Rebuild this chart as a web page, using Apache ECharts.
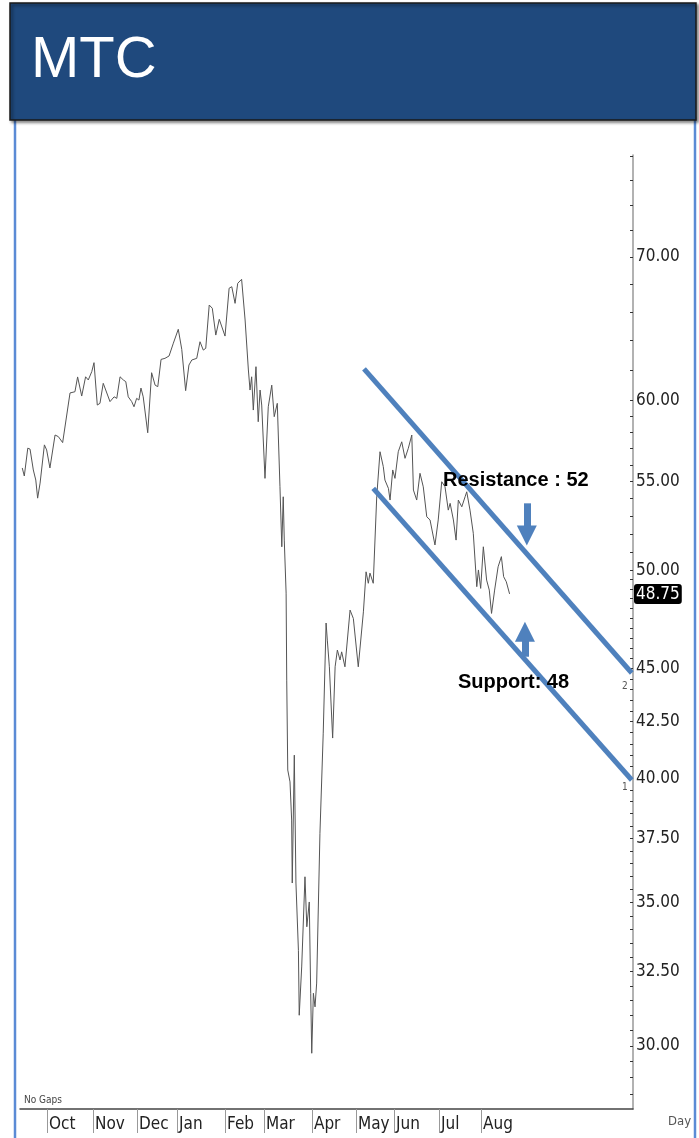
<!DOCTYPE html>
<html>
<head>
<meta charset="utf-8" />
<title>MTC</title>
<script src="https://cdn.jsdelivr.net/npm/echarts@6.0.0/dist/echarts.min.js"></script>
<style>
    html, body { margin: 0; padding: 0; background: #fff; }
    #chart { width: 699px; height: 1138px; }
</style>
</head>
<body>
<div id="chart"></div>
<script type="text/javascript">
    // trading day index (0 = left edge of the plot) and close price
    var days = [
        1.1, 2.1, 3.8, 4.9, 6.5, 7.7, 8.6, 9.8, 11.9, 13.0,
        14.6, 15.5, 17.1, 18.7, 20.8, 24.4, 26.8, 28.1, 30.1, 32.0,
        33.3, 35.0, 36.1, 37.7, 39.0, 40.6, 43.9, 45.9, 47.2, 48.8,
        50.4, 51.6, 52.8, 54.5, 55.6, 56.9, 58.0, 59.0, 60.1, 62.3,
        64.2, 65.9, 67.2, 68.8, 70.7, 72.7, 74.8, 77.2, 78.9, 80.8,
        82.4, 83.8, 86.2, 87.8, 89.4, 90.6, 92.3, 93.8, 95.5, 97.2,
        100.0, 102.0, 103.3, 104.9, 106.2, 108.1, 109.8, 111.4, 112.2, 113.0,
        113.8, 115.1, 116.2, 117.1, 117.9, 119.5, 121.1, 122.8, 124.0, 125.5,
        126.8, 127.7, 128.4, 128.9, 129.8, 130.1, 130.6, 131.7, 132.5, 132.8,
        133.8, 134.6, 135.8, 136.2, 137.4, 139.0, 139.9, 141.1, 141.8, 142.3,
        143.1, 143.9, 144.7, 146.3, 147.9, 149.3, 149.9, 150.9, 152.5, 153.7,
        154.8, 156.1, 156.9, 158.5, 161.0, 162.6, 165.0, 167.5, 168.8, 169.9,
        170.7, 172.3, 174.0, 175.6, 177.2, 178.0, 179.7, 180.5, 181.8, 182.9,
        184.5, 186.2, 187.8, 189.4, 191.1, 191.9, 193.5, 195.1, 196.7, 198.4,
        200.0, 202.4, 204.0, 205.7, 207.3, 208.9, 209.8, 211.4, 212.7, 213.8,
        215.5, 217.1, 217.9, 219.5, 221.1, 222.8, 223.6, 224.7, 226.0, 227.6,
        228.9, 230.0, 231.5, 233.2, 234.8, 235.9, 237.2, 238.8
    ];
    var closes = [
        55.81, 55.33, 57.01, 56.95, 55.69, 55.09, 54.03, 54.91, 57.21, 56.90,
        55.81, 55.75, 57.82, 57.72, 57.35, 60.49, 60.57, 61.54, 60.29, 61.55,
        61.34, 61.89, 62.49, 59.71, 59.82, 61.12, 59.93, 60.24, 60.14, 61.55,
        61.34, 61.23, 60.24, 59.93, 59.60, 60.14, 60.03, 60.81, 60.24, 57.96,
        61.82, 61.00, 60.90, 62.71, 62.78, 62.94, 63.81, 64.77, 63.39, 60.64,
        62.33, 62.67, 62.78, 63.91, 63.34, 63.46, 66.48, 66.25, 64.37, 65.47,
        64.30, 67.69, 67.80, 66.60, 68.05, 68.34, 65.42, 62.00, 60.68, 61.55,
        59.39, 62.22, 58.65, 60.68, 59.71, 55.19, 59.60, 61.00, 58.97, 59.82,
        54.70, 51.28, 54.11, 51.65, 48.79, 44.44, 40.35, 39.84, 38.24, 35.74,
        41.00, 35.74, 33.25, 31.01, 32.66, 35.98, 34.10, 35.02, 31.75, 29.77,
        31.75, 31.29, 32.10, 37.70, 41.98, 47.25, 46.39, 45.08, 41.76, 45.08,
        45.90, 45.41, 45.81, 45.08, 47.91, 47.48, 45.08, 47.82, 49.92, 49.31,
        49.85, 49.31, 54.11, 56.79, 55.89, 55.09, 54.60, 53.92, 55.69, 55.19,
        56.79, 57.40, 56.39, 57.00, 57.82, 54.50, 53.92, 55.49, 54.69, 52.96,
        52.78, 51.38, 52.78, 54.99, 54.70, 53.34, 53.73, 52.78, 51.65, 53.92,
        53.53, 54.11, 54.40, 53.34, 52.03, 49.13, 50.02, 49.04, 51.28, 49.48,
        48.95, 47.74, 48.95, 50.19, 50.74, 49.66, 49.39, 48.75
    ];

    // month starts on the day axis
    var monthTicks = [13.2, 35.6, 57.1, 76.6, 100, 119, 142.4, 163.9, 182.4, 204.4, 224.9];
    var monthNames = ['Oct', 'Nov', 'Dec', 'Jan', 'Feb', 'Mar', 'Apr', 'May', 'Jun', 'Jul', 'Aug'];

    // price scale labels
    var priceLabels = [30, 32.5, 35, 37.5, 40, 42.5, 45, 50, 55, 60, 70];
    var lastPrice = 48.75;

    // channel: [day, price] end points
    var resistanceLine = [[167.8, 62.07], [298.4, 44.78]];
    var supportLine = [[172.3, 54.60], [298.4, 39.92]];
    var resistanceArrow = [[247.2, 53.73], [247.2, 51.91]];
    var supportArrow = [[246.3, 45.57], [246.3, 46.81]];

    var priceData = [];
    for (var i = 0; i < days.length; i++) {
        priceData.push([days[i], closes[i]]);
    }

    // minor ticks of the price scale
    var priceTicks = [];
    for (var t = 28.5; t <= 50; t += 0.5) priceTicks.push(t);
    for (var t = 51; t <= 60; t += 1) priceTicks.push(t);
    for (var t = 62; t <= 78; t += 2) priceTicks.push(t);

    var axisFont = '"Liberation Sans Narrow", "DejaVu Sans Condensed", sans-serif';
    var blue = '#4F81BD';

    var myChart = echarts.init(document.getElementById('chart'));

    myChart.setOption({
        backgroundColor: '#fff',
        animation: false,
        grid: {
            left: 20,
            right: 66,
            top: 155,
            bottom: 29
        },
        xAxis: {
            type: 'value',
            min: 0,
            max: 299,
            splitLine: { show: false },
            axisLine: {
                show: true,
                onZero: false,
                lineStyle: { color: '#444', width: 1.5 }
            },
            axisTick: {
                show: true,
                customValues: monthTicks,
                length: 24,
                lineStyle: { color: '#999', width: 1 }
            },
            axisLabel: {
                customValues: monthTicks,
                align: 'left',
                margin: 7,
                padding: [0, 0, 0, 2],
                fontFamily: axisFont,
                fontSize: 17,
                color: '#222',
                formatter: function (v) {
                    for (var k = 0; k < monthTicks.length; k++) {
                        if (Math.abs(monthTicks[k] - v) < 0.01) return monthNames[k];
                    }
                    return '';
                }
            }
        },
        yAxis: {
            type: 'log',
            position: 'right',
            min: 28.04,
            max: 78.1,
            splitLine: { show: false },
            axisLine: {
                show: true,
                onZero: false,
                lineStyle: { color: '#999', width: 1.5 }
            },
            axisTick: {
                show: true,
                inside: true,
                customValues: priceTicks,
                length: 3,
                lineStyle: { color: '#333', width: 1 }
            },
            axisLabel: {
                customValues: priceLabels,
                margin: 3,
                fontFamily: axisFont,
                fontSize: 17,
                color: '#222',
                formatter: function (v) {
                    return Number(v).toFixed(2);
                }
            },
            axisPointer: {
                show: true,
                value: lastPrice,
                status: 'show',
                triggerTooltip: false,
                lineStyle: { opacity: 0 },
                label: {
                    show: true,
                    formatter: function () {
                        return lastPrice.toFixed(2);
                    },
                    backgroundColor: '#000',
                    color: '#fff',
                    fontFamily: axisFont,
                    fontSize: 17,
                    padding: [2, 2, 1, 2],
                    margin: 1
                }
            }
        },
        series: [{
                name: 'MTC',
                type: 'line',
                data: priceData,
                symbol: 'none',
                lineStyle: { color: '#555', width: 1 },
                z: 2
            }, {
                name: 'Resistance',
                type: 'line',
                data: resistanceLine,
                symbol: 'none',
                lineStyle: { color: blue, width: 5 },
                z: 3,
                markLine: {
                    silent: true,
                    symbol: ['none', 'triangle'],
                    symbolSize: 20,
                    label: { show: false },
                    itemStyle: { color: blue },
                    lineStyle: { color: blue, width: 7, type: 'solid' },
                    data: [
                        [{ coord: resistanceArrow[0] }, { coord: resistanceArrow[1] }],
                        [{ coord: supportArrow[0] }, { coord: supportArrow[1] }]
                    ]
                }
            }, {
                name: 'Support',
                type: 'line',
                data: supportLine,
                symbol: 'none',
                lineStyle: { color: blue, width: 5 },
                z: 3
            }
        ],
        graphic: [{
                type: 'rect',
                z: 0,
                shape: { x: 15, y: 118, width: 680, height: 1040 },
                style: { fill: 'none', stroke: '#5B8BD5', lineWidth: 2.5 }
            }, {
                type: 'rect',
                z: 10,
                shape: { x: 10, y: 3, width: 686, height: 117 },
                style: {
                    fill: '#1F497D',
                    stroke: '#1a1a1a',
                    lineWidth: 1.5,
                    shadowBlur: 3,
                    shadowOffsetX: 2,
                    shadowOffsetY: 2,
                    shadowColor: 'rgba(0,0,0,0.45)'
                }
            }, {
                type: 'text',
                z: 11,
                x: 31,
                y: 61,
                style: {
                    text: 'MTC',
                    fill: '#fff',
                    font: '58px "Liberation Sans", Arial, sans-serif',
                    verticalAlign: 'middle',
                    textVerticalAlign: 'middle'
                }
            }, {
                type: 'text',
                z: 11,
                x: 443,
                y: 480,
                style: {
                    text: 'Resistance : 52',
                    fill: '#000',
                    font: 'bold 20px "Liberation Sans", Arial, sans-serif',
                    verticalAlign: 'middle',
                    textVerticalAlign: 'middle'
                }
            }, {
                type: 'text',
                z: 11,
                x: 458,
                y: 682,
                style: {
                    text: 'Support: 48',
                    fill: '#000',
                    font: 'bold 20px "Liberation Sans", Arial, sans-serif',
                    verticalAlign: 'middle',
                    textVerticalAlign: 'middle'
                }
            }, {
                type: 'text',
                z: 11,
                x: 24,
                y: 1100,
                style: {
                    text: 'No Gaps',
                    fill: '#444',
                    font: '10px ' + axisFont,
                    verticalAlign: 'middle',
                    textVerticalAlign: 'middle'
                }
            }, {
                type: 'text',
                z: 11,
                x: 668,
                y: 1122,
                style: {
                    text: 'Day',
                    fill: '#555',
                    font: '13px ' + axisFont,
                    verticalAlign: 'middle',
                    textVerticalAlign: 'middle'
                }
            }, {
                type: 'text',
                z: 11,
                x: 622,
                y: 686,
                style: {
                    text: '2',
                    fill: '#555',
                    font: '10px ' + axisFont,
                    verticalAlign: 'middle',
                    textVerticalAlign: 'middle'
                }
            }, {
                type: 'text',
                z: 11,
                x: 622,
                y: 787,
                style: {
                    text: '1',
                    fill: '#555',
                    font: '10px ' + axisFont,
                    verticalAlign: 'middle',
                    textVerticalAlign: 'middle'
                }
            }
        ]
    });
</script>
</body>
</html>
